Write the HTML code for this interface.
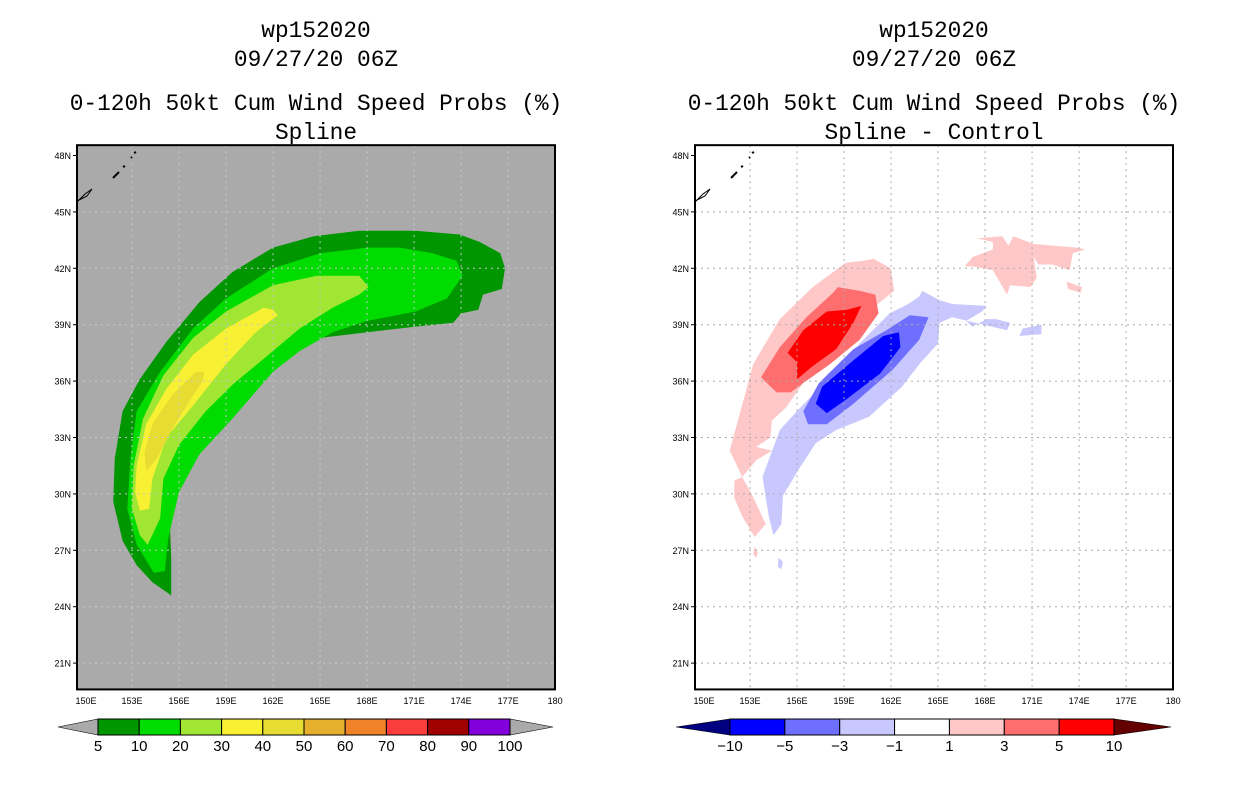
<!DOCTYPE html>
<html><head><meta charset="utf-8">
<style>
html,body{margin:0;padding:0;background:#fff;}
body{width:1236px;height:800px;overflow:hidden;position:relative;font-family:"Liberation Mono",monospace;}
svg{position:absolute;left:0;top:0;}
</style></head>
<body>
<svg id="chart" width="1236" height="800" viewBox="0 0 1236 800"></svg>
<script>
// ---- data: contour polygons as [lon,lat] pairs ----
const lonTicks = [150,153,156,159,162,165,168,171,174,177,180];
const lonLabels = ["150E","153E","156E","159E","162E","165E","168E","171E","174E","177E","180"];
const latTicks = [21,24,27,30,33,36,39,42,45,48];
const latLabels = ["21N","24N","27N","30N","33N","36N","39N","42N","45N","48N"];
const probLevels = ["5","10","20","30","40","50","60","70","80","90","100"];
const probColors = ["#009600","#00dc00","#a0e632","#f8f032","#e6dc32","#e6af2d","#f08228","#fa3c3c","#a00000","#8200dc"];
const diffLevels = ["-10","-5","-3","-1","1","3","5","10"];
const diffColors = ["#0000ff","#6e6eff","#c8c8ff","#ffffff","#ffc8c8","#ff6e6e","#ff0000"];

const prob5 = [[155.5,24.6],[155.5,26.6],[155.4,28.7],[156.0,30.8],[157.3,33.0],[159.0,34.4],[160.9,35.8],[162.9,37.2],[165.0,38.3],[168.0,38.6],[171.1,38.9],[173.5,39.1],[174.0,39.6],[175.1,39.8],[175.4,40.6],[176.6,40.9],[176.8,42.0],[176.5,42.8],[175.2,43.4],[173.9,43.8],[171.1,44.0],[167.5,44.0],[164.6,43.7],[162.0,43.1],[159.4,41.8],[157.3,40.2],[155.2,38.1],[153.5,36.1],[152.4,34.4],[151.9,31.9],[151.8,29.6],[152.4,27.5],[153.3,26.2],[154.3,25.3]];
const prob10 = [[154.4,25.8],[155.1,25.9],[155.3,27.6],[156.0,30.1],[157.3,32.1],[159.4,34.0],[162.0,36.5],[163.7,37.6],[165.8,38.6],[168.0,39.2],[171.1,39.7],[173.1,40.4],[174.1,41.6],[173.7,42.4],[172.2,42.8],[170.1,43.1],[168.0,43.1],[165.0,42.8],[162.0,42.0],[159.0,40.4],[156.9,38.8],[154.8,36.5],[153.3,34.4],[152.9,31.9],[152.7,29.2],[153.3,27.3]];
const prob20 = [[154.0,27.3],[154.8,28.7],[155.0,30.8],[156.0,32.6],[157.7,34.4],[159.4,35.8],[162.0,37.6],[163.7,38.8],[165.8,39.9],[167.5,40.6],[168.1,41.0],[167.5,41.6],[164.8,41.6],[162.0,41.1],[159.0,39.7],[156.9,38.3],[155.0,36.3],[153.7,34.0],[153.1,31.5],[153.0,29.2],[153.5,27.8]];
const prob30 = [[153.5,29.1],[154.1,29.2],[154.3,30.8],[155.2,33.0],[156.9,34.7],[159.0,36.9],[160.9,38.6],[162.3,39.5],[162.0,39.8],[161.4,39.9],[159.0,38.8],[156.9,37.4],[155.2,35.6],[153.9,33.7],[153.3,31.5],[153.2,30.1]];
const prob40 = [[153.9,31.2],[154.6,31.9],[155.8,33.8],[157.5,36.0],[157.6,36.5],[157.1,36.5],[155.6,35.3],[154.3,33.7],[153.8,32.2]];

const diffP1a = [[160.9,42.5],[161.98,42.0],[162.2,40.8],[161.0,40.0],[158.1,37.5],[156.4,35.9],[155.3,34.6],[154.4,33.9],[154.3,33.0],[153.4,32.5],[154.4,32.3],[153.4,31.8],[152.5,30.9],[152.0,31.8],[151.7,32.3],[152.3,34.1],[153.2,36.9],[154.9,39.3],[157.0,41.0],[159.1,42.3],[160.2,42.4]];
const diffP1b = [[152.0,30.7],[152.5,30.9],[153.1,30.0],[154.0,28.4],[153.3,27.7],[152.5,28.8],[152.0,29.8]];
const diffP1c = [[167.5,43.6],[169.1,43.7],[169.5,43.2],[169.8,43.7],[171.1,43.3],[172.4,43.2],[173.9,43.1],[174.4,43.0],[173.6,42.8],[173.4,41.9],[172.3,42.2],[171.4,42.2],[171.1,42.6],[171.3,41.5],[170.9,41.0],[169.6,41.1],[169.4,40.6],[168.5,41.9],[167.2,42.1],[166.7,42.1],[167.2,42.6],[168.5,43.0],[168.5,43.4]];
const diffP1d = [[173.2,41.3],[174.2,41.0],[174.1,40.7],[173.3,40.9]];
const diffP1e = [[153.3,27.2],[153.5,26.9],[153.4,26.6],[153.2,26.8]];
const diffP3 = [[158.6,41.0],[160.0,40.8],[161.0,40.6],[161.2,39.6],[160.0,38.2],[158.1,36.9],[156.4,35.9],[155.6,35.4],[154.7,35.4],[153.7,36.2],[154.9,37.8],[156.6,39.4],[158.3,40.7]];
const diffP5 = [[160.1,40.0],[159.6,39.1],[158.5,37.7],[157.0,36.8],[156.0,36.1],[156.0,37.0],[155.4,37.5],[156.4,38.7],[157.9,39.7],[159.2,39.8]];
const diffN1a = [[164.0,40.8],[165.1,40.3],[165.9,40.1],[168.1,40.0],[167.8,39.7],[166.8,39.2],[167.2,38.9],[168.1,39.3],[168.7,39.3],[169.6,39.1],[169.4,38.7],[165.9,39.4],[165.1,39.1],[165.0,38.0],[163.8,36.9],[162.7,35.7],[160.6,34.1],[158.5,33.4],[157.2,32.7],[156.1,31.3],[155.1,29.9],[155.0,28.4],[154.5,27.8],[154.2,28.8],[153.8,30.9],[154.9,33.4],[156.1,34.5],[158.1,36.2],[160.0,38.0],[161.9,39.6],[163.1,40.1],[163.8,40.5]];
const diffN1b = [[170.4,38.8],[171.6,39.0],[171.6,38.5],[170.2,38.4]];
const diffN1c = [[154.8,26.6],[155.1,26.4],[155.0,26.0],[154.8,26.1]];
const diffN3 = [[164.4,39.4],[163.8,38.2],[162.1,36.6],[159.6,34.8],[157.9,33.7],[156.7,33.7],[156.4,34.4],[157.4,35.9],[159.6,37.7],[161.7,38.7],[163.2,39.5]];
const diffN5 = [[162.5,38.6],[162.6,37.8],[161.3,36.4],[159.1,35.0],[157.9,34.3],[157.2,34.8],[157.6,35.7],[159.6,37.1],[161.5,38.4]];

// ---- axes ----
const NS="http://www.w3.org/2000/svg";
const svg=document.getElementById('chart');
function mk(tag,attrs,parent){const e=document.createElementNS(NS,tag);for(const k in attrs)e.setAttribute(k,attrs[k]);(parent||svg).appendChild(e);return e;}
function xScale(off){return lon=>off+85+(lon-150)*15.67;}
function yScale(lat){return 155.5+(48-lat)*18.8;}
const BOX_T=yScale(48.55), BOX_B=yScale(19.6);

function panel(off,bg,title2,layers,gridColor,nm){
  const xs=xScale(off);
  const g=mk('g',{});
  
  
  const L=off+77,R=off+555;
  const bgR=mk('rect',{x:L,y:BOX_T,width:R-L,height:BOX_B-BOX_T,fill:bg},g);
  
  
  layers.forEach(([poly,col,lname])=>{
    const p=mk('polygon',{points:poly.map(d=>xs(d[0]).toFixed(1)+','+yScale(d[1]).toFixed(1)).join(' '),fill:col},g);
    
    
  });
  // grid
  lonTicks.slice(1,-1).forEach(v=>{const l=mk('line',{x1:xs(v),x2:xs(v),y1:BOX_T,y2:BOX_B,stroke:gridColor,'stroke-width':1,'stroke-dasharray':'2 4'},g);
    });
  latTicks.slice(0,-1).forEach(v=>{const l=mk('line',{x1:L,x2:R,y1:yScale(v),y2:yScale(v),stroke:gridColor,'stroke-width':1,'stroke-dasharray':'2 4'},g);
    });
  // coastline bits
  const c1=mk('path',{d:`M${L} ${202} L${L+8} ${194} L${L+15} ${189} L${L+10} ${196} L${L} ${201}`,fill:'none',stroke:'#000','stroke-width':1},g);
  
  const c2=mk('path',{d:`M${L+36} ${178} L${L+42} ${172} M${L+46} ${167} L${L+48} ${166} M${L+54} ${158} L${L+55} ${157} M${L+57} ${153} L${L+59} ${152}`,fill:'none',stroke:'#000','stroke-width':2},g);
  
  const fr=mk('rect',{x:L,y:BOX_T,width:R-L,height:BOX_B-BOX_T,fill:'none',stroke:'#000','stroke-width':2},g);
  
  lonTicks.forEach((v,i)=>{
    const t=mk('text',{x:xs(v)+ (i==0?1:0),y:704,'font-size':9,'text-anchor':'middle','font-family':'Liberation Sans, sans-serif'},g);
    t.textContent=lonLabels[i];
    
  });
  latTicks.forEach((v,i)=>{
    const y=yScale(v);
    const tk=mk('line',{x1:L-4,x2:L,y1:y,y2:y,stroke:'#000'},g);
    
    const t=mk('text',{x:L-6,y:y+3.5,'font-size':9,'text-anchor':'end','font-family':'Liberation Sans, sans-serif'},g);
    t.textContent=latLabels[i];
    
  });
  const cx=off+316;
  [["wp152020",37],["09/27/20 06Z",66],["0-120h 50kt Cum Wind Speed Probs (%)",110],[title2,139]].forEach(([s,y],i)=>{
    const t=mk('text',{x:cx,y:y,'font-size':22.8,'text-anchor':'middle','font-family':'Liberation Mono, monospace'});
    t.textContent=s;
    
  });
}

panel(0,'#aaaaaa','Spline',[
  [prob5,probColors[0],'prob-5-contour'],[prob10,probColors[1],'prob-10-contour'],[prob20,probColors[2],'prob-20-contour'],
  [prob30,probColors[3],'prob-30-contour'],[prob40,probColors[4],'prob-40-contour']],'#c8c8d0','left');
panel(618,'#ffffff','Spline - Control',[
  [diffP1a,diffColors[4],'diff-pos1-main'],[diffP1b,diffColors[4],'diff-pos1-south'],[diffP1c,diffColors[4],'diff-pos1-northeast'],
  [diffP1d,diffColors[4],'diff-pos1-patch'],[diffP1e,diffColors[4],'diff-pos1-speck'],
  [diffP3,diffColors[5],'diff-pos3'],[diffP5,diffColors[6],'diff-pos5'],
  [diffN1a,diffColors[2],'diff-neg1-main'],[diffN1b,diffColors[2],'diff-neg1-patch'],[diffN1c,diffColors[2],'diff-neg1-speck'],
  [diffN3,diffColors[1],'diff-neg3'],[diffN5,diffColors[0],'diff-neg5']],'#aaaaaa','right');

// ---- colorbars ----
function colorbar(x0,x1,tipL,tipR,colors,labels,lowCol,highCol,nm){
  const g=mk('g',{});
  
  const y0=719,y1=735,ym=727,n=colors.length,w=(x1-x0)/n;
  const a=mk('polygon',{points:`${tipL},${ym} ${x0},${y0} ${x0},${y1}`,fill:lowCol,stroke:'#000','stroke-width':0.6},g);
  
  const b=mk('polygon',{points:`${tipR},${ym} ${x1},${y0} ${x1},${y1}`,fill:highCol,stroke:'#000','stroke-width':0.6},g);
  
  colors.forEach((c,i)=>{
    const r=mk('rect',{x:x0+i*w,y:y0,width:w,height:y1-y0,fill:c,stroke:'#000','stroke-width':1},g);
    
  });
  labels.forEach((s,i)=>{
    const t=mk('text',{x:x0+i*w,y:751,'font-size':15,'text-anchor':'middle','font-family':'Liberation Sans, sans-serif'},g);
    t.textContent=s.replace('-','\u2212');
    
  });
}
colorbar(98,510,58,553,probColors,probLevels,'#aaaaaa','#aaaaaa','prob-colorbar');
colorbar(730,1114,676,1171,diffColors,diffLevels,'#000080','#640000','diff-colorbar');
</script>
</body></html>
